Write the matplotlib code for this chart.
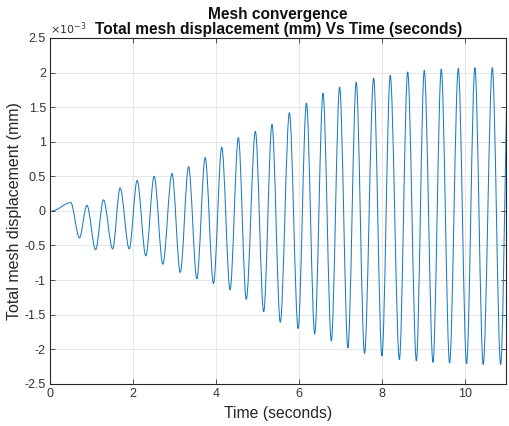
import numpy as np
import matplotlib
matplotlib.use("Agg")
import matplotlib.pyplot as plt
from matplotlib.path import Path
from matplotlib.patches import PathPatch
from matplotlib.ticker import FuncFormatter

plt.rcParams['font.family'] = ['Liberation Sans', 'DejaVu Sans']

# Extrema of the displacement trace (time in s, displacement in 1e-3 mm)
time_s = [0.05, 0.50, 0.71, 0.89, 1.10, 1.29, 1.51, 1.69, 1.91, 2.10, 2.31,
          2.51, 2.72, 2.94, 3.14, 3.34, 3.54, 3.74, 3.94, 4.14, 4.34, 4.54,
          4.73, 4.95, 5.15, 5.35, 5.55, 5.77, 5.98, 6.18, 6.38, 6.58, 6.78,
          6.98, 7.18, 7.38, 7.58, 7.80, 8.00, 8.20, 8.42, 8.62, 8.83, 9.02,
          9.23, 9.43, 9.63, 9.84, 10.04, 10.24, 10.44, 10.66, 10.86, 11.0]
disp_e3 = [0.00, 0.12, -0.39, 0.08, -0.56, 0.16, -0.55, 0.33, -0.55, 0.44,
           -0.65, 0.50, -0.77, 0.54, -0.89, 0.64, -0.98, 0.77, -1.05, 0.92,
           -1.14, 1.06, -1.28, 1.15, -1.46, 1.25, -1.61, 1.42, -1.70, 1.56,
           -1.78, 1.70, -1.88, 1.79, -1.98, 1.86, -2.06, 1.92, -2.10, 1.96,
           -2.15, 2.01, -2.17, 2.03, -2.19, 2.05, -2.20, 2.06, -2.21, 2.07,
           -2.22, 2.07, -2.22, 1.45]

x_ticks = [0, 2, 4, 6, 8, 10]
y_ticks = [-2.5, -2, -1.5, -1, -0.5, 0, 0.5, 1, 1.5, 2, 2.5]

fig = plt.figure(figsize=(5.10, 4.26), dpi=100)
ax = fig.add_axes([0.098, 0.099, 0.895, 0.812])

# smooth curve through the extrema (cubic Bezier, horizontal tangents at extrema)
t = np.asarray(time_s, float)
y = np.asarray(disp_e3, float)
n = len(t)
slopes = np.zeros(n)
for i in range(1, n - 1):
    d1 = y[i] - y[i - 1]
    d2 = y[i + 1] - y[i]
    if d1 * d2 <= 0:
        slopes[i] = 0.0
    else:
        slopes[i] = (y[i + 1] - y[i - 1]) / (t[i + 1] - t[i - 1])
slopes[-1] = (y[-1] - y[-2]) / (t[-1] - t[-2]) * 1.2
verts = [(t[0], y[0])]
codes = [Path.MOVETO]
for i in range(n - 1):
    dt = t[i + 1] - t[i]
    verts += [(t[i] + dt / 3, y[i] + slopes[i] * dt / 3),
              (t[i + 1] - dt / 3, y[i + 1] - slopes[i + 1] * dt / 3),
              (t[i + 1], y[i + 1])]
    codes += [Path.CURVE4] * 3
patch = PathPatch(Path(verts, codes), facecolor='none', edgecolor='#1a7cc2',
                  lw=0.75, zorder=3)
ax.add_patch(patch)

ax.set_xlim(0, 11)
ax.set_ylim(-2.5, 2.5)
ax.set_xticks(x_ticks)
ax.set_yticks(y_ticks)
fmt = FuncFormatter(lambda v, p: ('%g' % v))
ax.xaxis.set_major_formatter(fmt)
ax.yaxis.set_major_formatter(fmt)
ax.grid(True, color='#e3e3e3', lw=0.6)
ax.set_axisbelow(True)
ax.tick_params(direction='in', length=3.5, width=0.6, top=True, right=True,
               labelsize=9, colors='#333333', pad=3)
for s in ax.spines.values():
    s.set_color('#262626')
    s.set_linewidth(0.8)

ax.set_xlabel('Time (seconds)', fontsize=11.3, color='#262626', labelpad=4)
ax.set_ylabel('Total mesh displacement (mm)', fontsize=11.5, color='#262626', labelpad=2)
ax.set_title('Mesh convergence\nTotal mesh displacement (mm) Vs Time (seconds)',
             fontsize=11.2, fontweight='bold', color='#111111', pad=3,
             linespacing=1.0)
ax.text(0.0, 1.002, r'$\times 10^{-3}$', transform=ax.transAxes, fontsize=8,
        color='#333333', ha='left', va='bottom')

fig.savefig('out.png', dpi=100)
